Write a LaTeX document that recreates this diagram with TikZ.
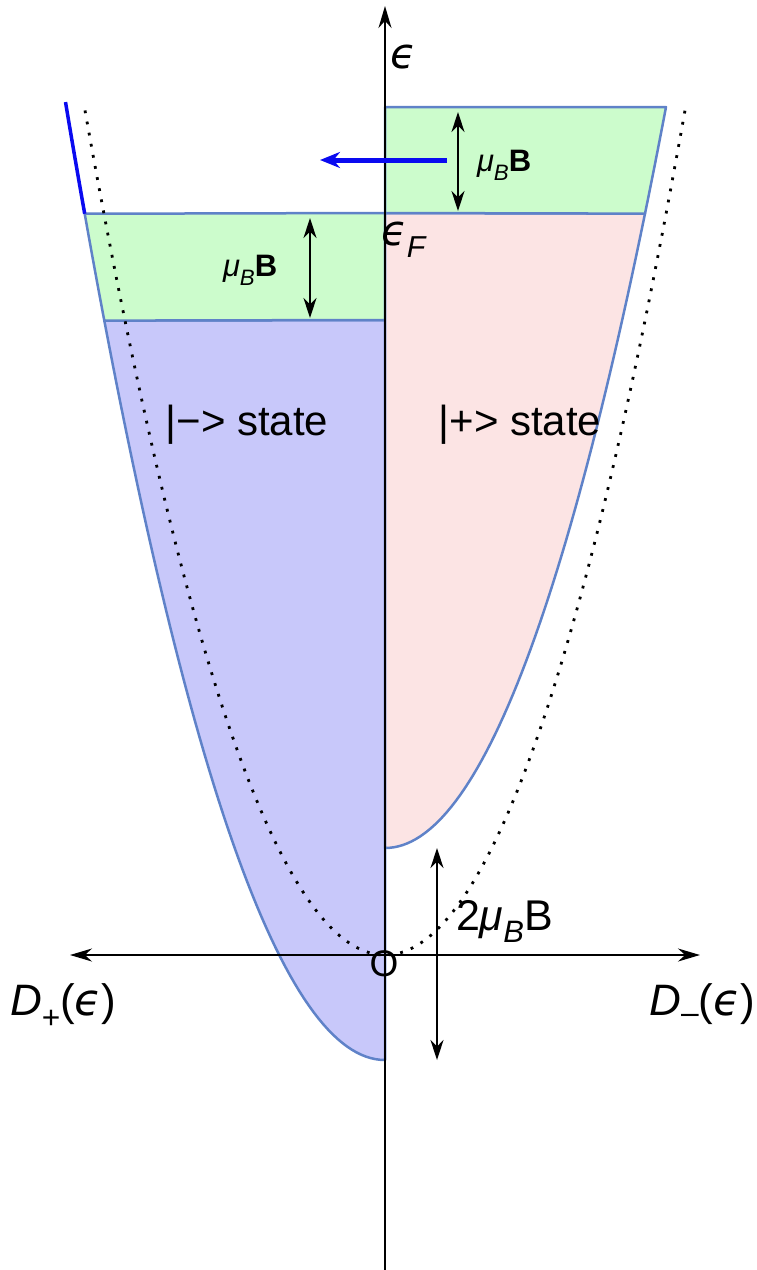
\documentclass[tikz,border=0pt]{standalone}
\usepackage{fontspec}
\setmainfont{Liberation Sans}
\newfontfamily\dejavu{DejaVu Sans}
\usetikzlibrary{arrows.meta}
\definecolor{edgeblue}{RGB}{95,130,200}
\definecolor{greenfill}{RGB}{204,252,204}
\definecolor{pinkfill}{RGB}{252,228,228}
\definecolor{bluefill}{RGB}{200,200,250}
\definecolor{arrowblue}{RGB}{10,10,240}
\newcommand{\eps}{{\dejavu\itshape ϵ}}
\newcommand{\lowsub}[1]{\raisebox{-0.28em}{\scalebox{0.72}{#1}}}
\newcommand{\fsz}[1]{\fontsize{#1}{#1}\selectfont}
\begin{document}
\begin{tikzpicture}[x=1pt,y=-1pt,
  region/.style={draw=edgeblue,line width=2.5pt,line join=round},
  axisline/.style={line width=1.8pt,black},
  tipA/.style={-{Stealth[length=22pt,width=13pt]}},
  dimarrow/.style={line width=1.6pt,{Stealth[length=20pt,width=13pt]}-{Stealth[length=20pt,width=13pt]}},
  lbl/.style={inner sep=0pt,outer sep=0pt}]
\useasboundingbox (0,0) rectangle (757,1270);
% ---- regions
\filldraw[region,fill=bluefill] (385,1060) -- plot[domain=0:280.7,samples=60] ({385-\x},{1060-(0.00939*(\x))*(\x)}) -- (385,320) -- cycle;
\filldraw[region,fill=greenfill] (385,320) -- plot[domain=280.7:300.3,samples=10] ({385-\x},{1060-(0.00939*(\x))*(\x)}) -- (385,213) -- cycle;
\filldraw[region,fill=pinkfill] (385,848) -- plot[domain=0:260,samples=60] ({385+\x},{848-(0.00939*(\x))*(\x)}) -- (385,213) -- cycle;
\filldraw[region,fill=greenfill] (385,213) -- plot[domain=260:281,samples=10] ({385+\x},{848-(0.00939*(\x))*(\x)}) -- (385,107) -- cycle;
% blue curve above the Fermi box
\draw[arrowblue,line width=3.5pt] plot[domain=300.3:319.5,samples=10] ({385-\x},{1060-(0.00939*(\x))*(\x)});
% ---- dotted free-electron parabola
\draw[line width=2.8pt,dash pattern=on 2.8pt off 8.5pt] plot[domain=-300:300,samples=150] ({385+\x},{955-(0.00939*(\x))*(\x)});
% ---- axes
\coordinate (ybot) at (385,1270);
\coordinate (ytop) at (385,6);
\coordinate (xl) at (70,955);
\coordinate (xr) at (700,955);
\draw[axisline,tipA] (ybot) -- (ytop);
\draw[axisline,{Stealth[length=22pt,width=13pt]}-{Stealth[length=22pt,width=13pt]}] (xl) -- (xr);
\node[lbl,font=\fsz{37}] (orig) at (384,964) {O};
% ---- dimension arrows
\coordinate (a1t) at (458,112);
\coordinate (a1b) at (458,211);
\draw[dimarrow] (a1t) -- (a1b);
\coordinate (a2t) at (310,218);
\coordinate (a2b) at (310,318);
\draw[dimarrow] (a2t) -- (a2b);
\coordinate (a3t) at (437,848);
\coordinate (a3b) at (437,1060);
\draw[dimarrow] (a3t) -- (a3b);
% ---- blue shift arrow
\coordinate (bs) at (447,160);
\coordinate (be) at (320,160);
\draw[arrowblue,line width=5pt,-{Stealth[length=20pt,width=16pt]}] (bs) -- (be);
% ---- labels
\node[lbl,anchor=west,font=\fsz{31}] (mu1) at (477,165) {\textit{μ}\lowsub{\textit{B}}\textbf{B}};
\node[lbl,anchor=west,font=\fsz{31}] (mu2) at (223,270) {\textit{μ}\lowsub{\textit{B}}\textbf{B}};
\node[lbl,anchor=west,font=\fsz{43}] (mu3) at (456,921) {2\textit{μ}\lowsub{\textit{B}}B};
\node[lbl,anchor=west,font=\fsz{42}] (eps) at (390,57) {\eps};
\node[lbl,anchor=west,font=\fsz{42}] (epsF) at (381,240) {\eps\lowsub{\textit{F}}};
\node[lbl,font=\fsz{42}] (minus) at (247,425) {|−> state};
\node[lbl,font=\fsz{42}] (plus) at (520,425) {|+> state};
\node[lbl,anchor=west,font=\fsz{44}] (dplus) at (10,1006) {\textit{D}\lowsub{+}(\eps)};
\node[lbl,anchor=east,font=\fsz{44}] (dminus) at (755,1006) {\textit{D}\lowsub{\raisebox{0.15em}{–}}(\eps)};
\end{tikzpicture}
\end{document}
